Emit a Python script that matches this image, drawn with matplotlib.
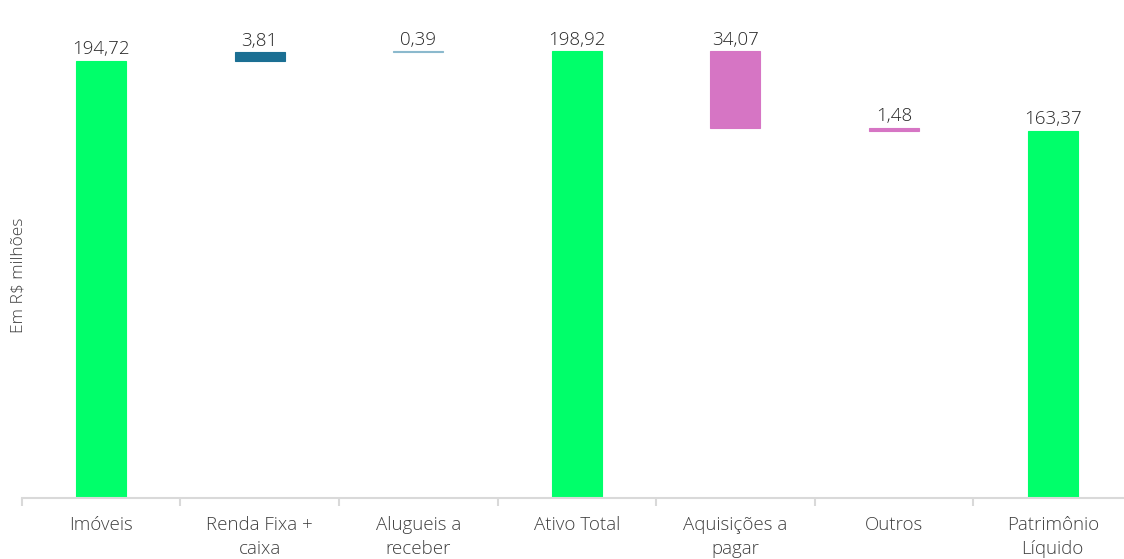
import matplotlib
matplotlib.use("Agg")
import matplotlib.pyplot as plt
import numpy as np

categories = ["Imóveis", "Renda Fixa +\ncaixa", "Alugueis a\nreceber", "Ativo Total",
              "Aquisições a\npagar", "Outros", "Patrimônio\nLíquido"]
values = [194.72, 3.81, 0.39, 198.92, -34.07, -1.48, 163.37]
kinds = ["total", "delta", "delta", "total", "delta", "delta", "total"]
labels = ["194,72", "3,81", "0,39", "198,92", "34,07", "1,48", "163,37"]
colors = ["#00FF6A", "#1B6F93", "#8BB9CD", "#00FF6A", "#D675C4", "#D675C4", "#00FF6A"]

plt.rcParams['font.family'] = ['Open Sans', 'DejaVu Sans']

W, H = 1124, 559
fig = plt.figure(figsize=(W / 100, H / 100), dpi=100)
left = 21.7 / W
right = 1132 / W
bottom = 61 / H
ax = fig.add_axes([left, bottom, right - left, 449 / H])

x = np.arange(len(categories))
bottoms = []
heights = []
running = 0.0
for v, k in zip(values, kinds):
    if k == "total":
        bottoms.append(0.0)
        heights.append(v)
        running = v
    else:
        if v >= 0:
            bottoms.append(running)
            heights.append(v)
        else:
            bottoms.append(running + v)
            heights.append(-v)
        running += v

bw = 0.315
ax.bar(x, heights, bottom=bottoms, width=bw, color=colors, edgecolor=colors, linewidth=0.8)

for xi, b, h, lab in zip(x, bottoms, heights, labels):
    ax.annotate(lab, (xi, b + h), xytext=(0, 2), textcoords="offset points",
                ha="center", va="bottom", fontsize=13.5, color="#262626", fontweight="light")

ax.set_xlim(-0.5, len(categories) - 0.5)
ax.set_ylim(0, 200)
for s in ["top", "right", "left"]:
    ax.spines[s].set_visible(False)
ax.spines["bottom"].set_color("#D9D9D9")
ax.spines["bottom"].set_linewidth(1.5)
ax.set_yticks([])
ax.set_xticks(x)
ax.set_xticklabels(categories, fontsize=13.5, color="#404040", linespacing=1.45,
                   fontweight="light")
ax.tick_params(axis="x", which="major", length=0, pad=13)
ax.set_xticks(np.arange(-0.5, len(categories) - 0.4, 1.0), minor=True)
ax.tick_params(axis="x", which="minor", length=6, width=1.5, color="#D9D9D9")

fig.text(19 / W, 1 - 275 / H, "Em R$ milhões", rotation=90, ha="center", va="center",
         fontsize=12.5, color="#404040", fontweight="light")

fig.savefig("out.png", dpi=100)
